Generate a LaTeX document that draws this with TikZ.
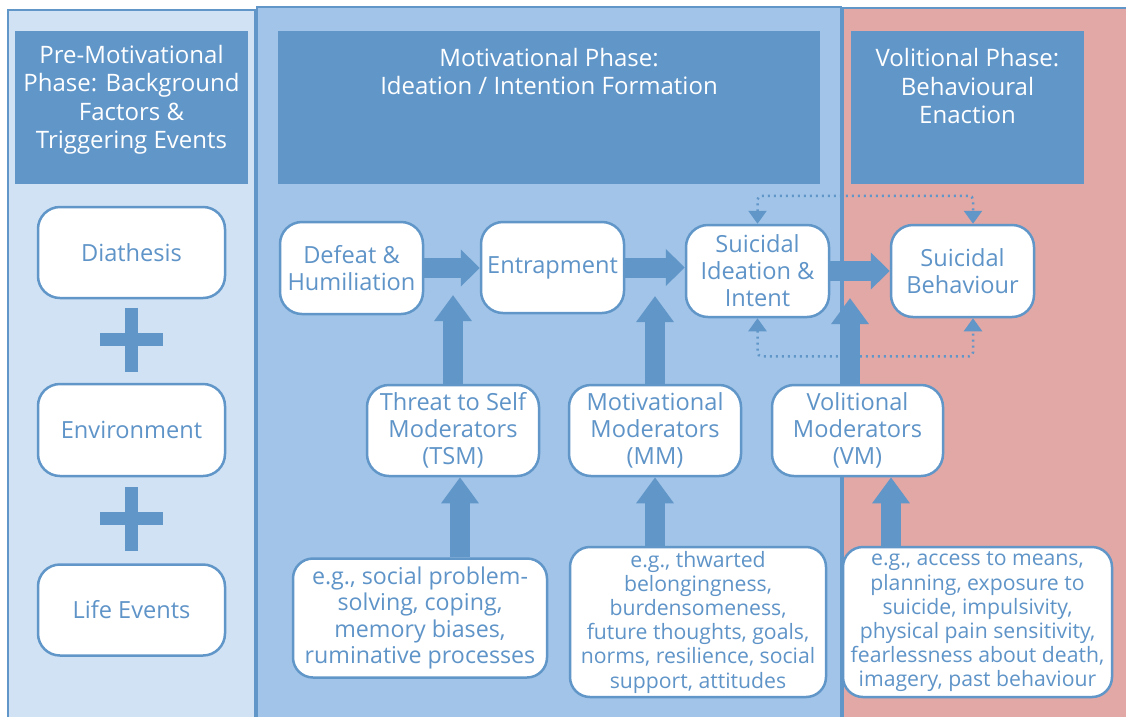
\documentclass[tikz,border=0pt]{standalone}
\usepackage{fontspec}
\setmainfont{Open Sans}
\usetikzlibrary{arrows.meta}
\definecolor{dblue}{HTML}{6196C9}
\definecolor{lblue}{HTML}{D1E2F4}
\definecolor{mblue}{HTML}{A1C4E8}
\definecolor{pinkbg}{HTML}{E1A8A6}
\definecolor{tblue}{HTML}{5F94C8}
\pgfdeclarelayer{bg}
\pgfdeclarelayer{arr}
\pgfsetlayers{bg,arr,main}
\begin{document}
\begin{tikzpicture}[x=1pt,y=-1pt,
  panel/.style={fill=#1, draw=dblue, line width=2pt},
  header/.style={fill=dblue, draw=none, inner sep=0pt},
  headtext/.style={text=white, align=center, inner sep=0pt, font=\fontsize{24}{28.5}\selectfont},
  box/.style={fill=white, draw=dblue, line width=2.5pt, rounded corners=22pt, align=center,
    text=tblue, inner sep=0pt, font=\fontsize{23.6}{27}\selectfont},
  smallbox/.style={box, font=\fontsize{21.2}{24.2}\selectfont, rounded corners=20pt},
  harrow/.style={draw=dblue, line width=20pt, -{Triangle[length=19pt,width=36pt]}},
  varrow/.style={draw=dblue, line width=20pt, -{Triangle[length=26pt,width=36pt]}},
  dotline/.style={draw=dblue, line width=2.5pt, dash pattern=on 2pt off 4pt, rounded corners=4pt,
    {Triangle[length=13pt,width=18pt]}-{Triangle[length=13pt,width=18pt]}},
  plusbar/.style={fill=dblue}
]
\useasboundingbox (0,0) rectangle (1126,716);

% panels
\begin{pgfonlayer}{bg}
  \fill[white] (0,0) rectangle (1126,716);
  \draw[panel=lblue] (8,10) rectangle (255,730);
  \draw[panel=mblue] (257,7) rectangle (841,730);
  \draw[panel=pinkbg] (843,8) rectangle (1140,730);
\end{pgfonlayer}

% headers
\node[header, minimum width=233pt, minimum height=153pt] (h1) at (131.5,107.5) {};
\node[header, minimum width=542pt, minimum height=153pt] (h2) at (549,107.5) {};
\node[header, minimum width=233pt, minimum height=153pt] (h3) at (967.5,107.5) {};
\node[headtext] (ht1) at (131.5,100) {Pre-Motivational\\Phase: Background\\Factors \&\\Triggering Events};
\node[headtext] (ht2) at (549,71.5) {Motivational Phase:\\Ideation / Intention Formation};
\node[headtext] (ht3) at (967.5,86) {Volitional Phase:\\Behavioural\\Enaction};

% left column
\node[box, minimum width=187pt, minimum height=91pt] (dia) at (131.5,252.5) {Diathesis};
\node[box, minimum width=187pt, minimum height=92pt] (env) at (131.5,430) {Environment};
\node[box, minimum width=187pt, minimum height=91pt] (life) at (131.5,610) {Life Events};
\fill[plusbar] (100,333) rectangle (163,346);
\fill[plusbar] (125,308) rectangle (138,372);
\fill[plusbar] (100,512) rectangle (163,525);
\fill[plusbar] (125,487) rectangle (138,551);

% main chain
\node[box, minimum width=143pt, minimum height=92pt] (dh) at (351.5,268) {Defeat \&\\Humiliation};
\node[box, minimum width=143pt, minimum height=91pt] (en) at (552.5,267.5) {Entrapment};
\node[box, minimum width=143pt, minimum height=92pt] (si) at (757.5,271) {Suicidal\\Ideation \&\\Intent};
\node[box, minimum width=143pt, minimum height=92pt] (sb) at (962.5,271) {Suicidal\\Behaviour};

% moderators
\node[box, minimum width=172pt, minimum height=91pt] (tsm) at (453,430.5) {Threat to Self\\Moderators\\(TSM)};
\node[box, minimum width=172pt, minimum height=91pt] (mm) at (655,430.5) {Motivational\\Moderators\\(MM)};
\node[box, minimum width=171pt, minimum height=91pt] (vm) at (857.5,430.5) {Volitional\\Moderators\\(VM)};

% examples
\node[box, font=\fontsize{23.2}{26.3}\selectfont, rounded corners=20pt, minimum width=254pt, minimum height=119pt] (b1) at (420,618)
  {e.g., social problem-\\solving, coping,\\memory biases,\\ruminative processes};
\node[smallbox, minimum width=256pt, minimum height=150pt] (b2) at (698,622)
  {e.g., thwarted\\belongingness,\\burdensomeness,\\future thoughts, goals,\\norms, resilience, social\\support, attitudes};
\node[smallbox, minimum width=269pt, minimum height=150pt] (b3) at (977.5,622)
  {e.g., access to means,\\planning, exposure to\\suicide, impulsivity,\\physical pain sensitivity,\\fearlessness about death,\\imagery, past behaviour};

% coordinates for free ends
\coordinate (sbx) at (973,0);
\coordinate (t1) at (453,295);
\coordinate (t2) at (655,296);
\coordinate (t3) at (850,298);
\coordinate (c1) at (460,0);
\coordinate (c2) at (655,0);
\coordinate (c3) at (891,0);

\begin{pgfonlayer}{arr}
  \draw[dotline] (si.north) -- ++(0,-28) -| (sb.north -| sbx);
  \draw[dotline] (si.south) -- ++(0,38) -| (sb.south -| sbx);
  \draw[harrow] (dh.east) -- (dh.east -| en.west);
  \draw[harrow] (en.east) -- (en.east -| si.west);
  \draw[harrow] (si.east) -- (si.east -| sb.west);
  \draw[varrow] (tsm.north) -- (t1);
  \draw[varrow] (mm.north) -- (t2);
  \draw[varrow] (vm.north -| t3) -- (t3);
  \draw[varrow] (b1.north -| c1) -- (tsm.south -| c1);
  \draw[varrow] (b2.north -| c2) -- (mm.south -| c2);
  \draw[varrow] (b3.north -| c3) -- (vm.south -| c3);
\end{pgfonlayer}
\end{tikzpicture}
\end{document}
